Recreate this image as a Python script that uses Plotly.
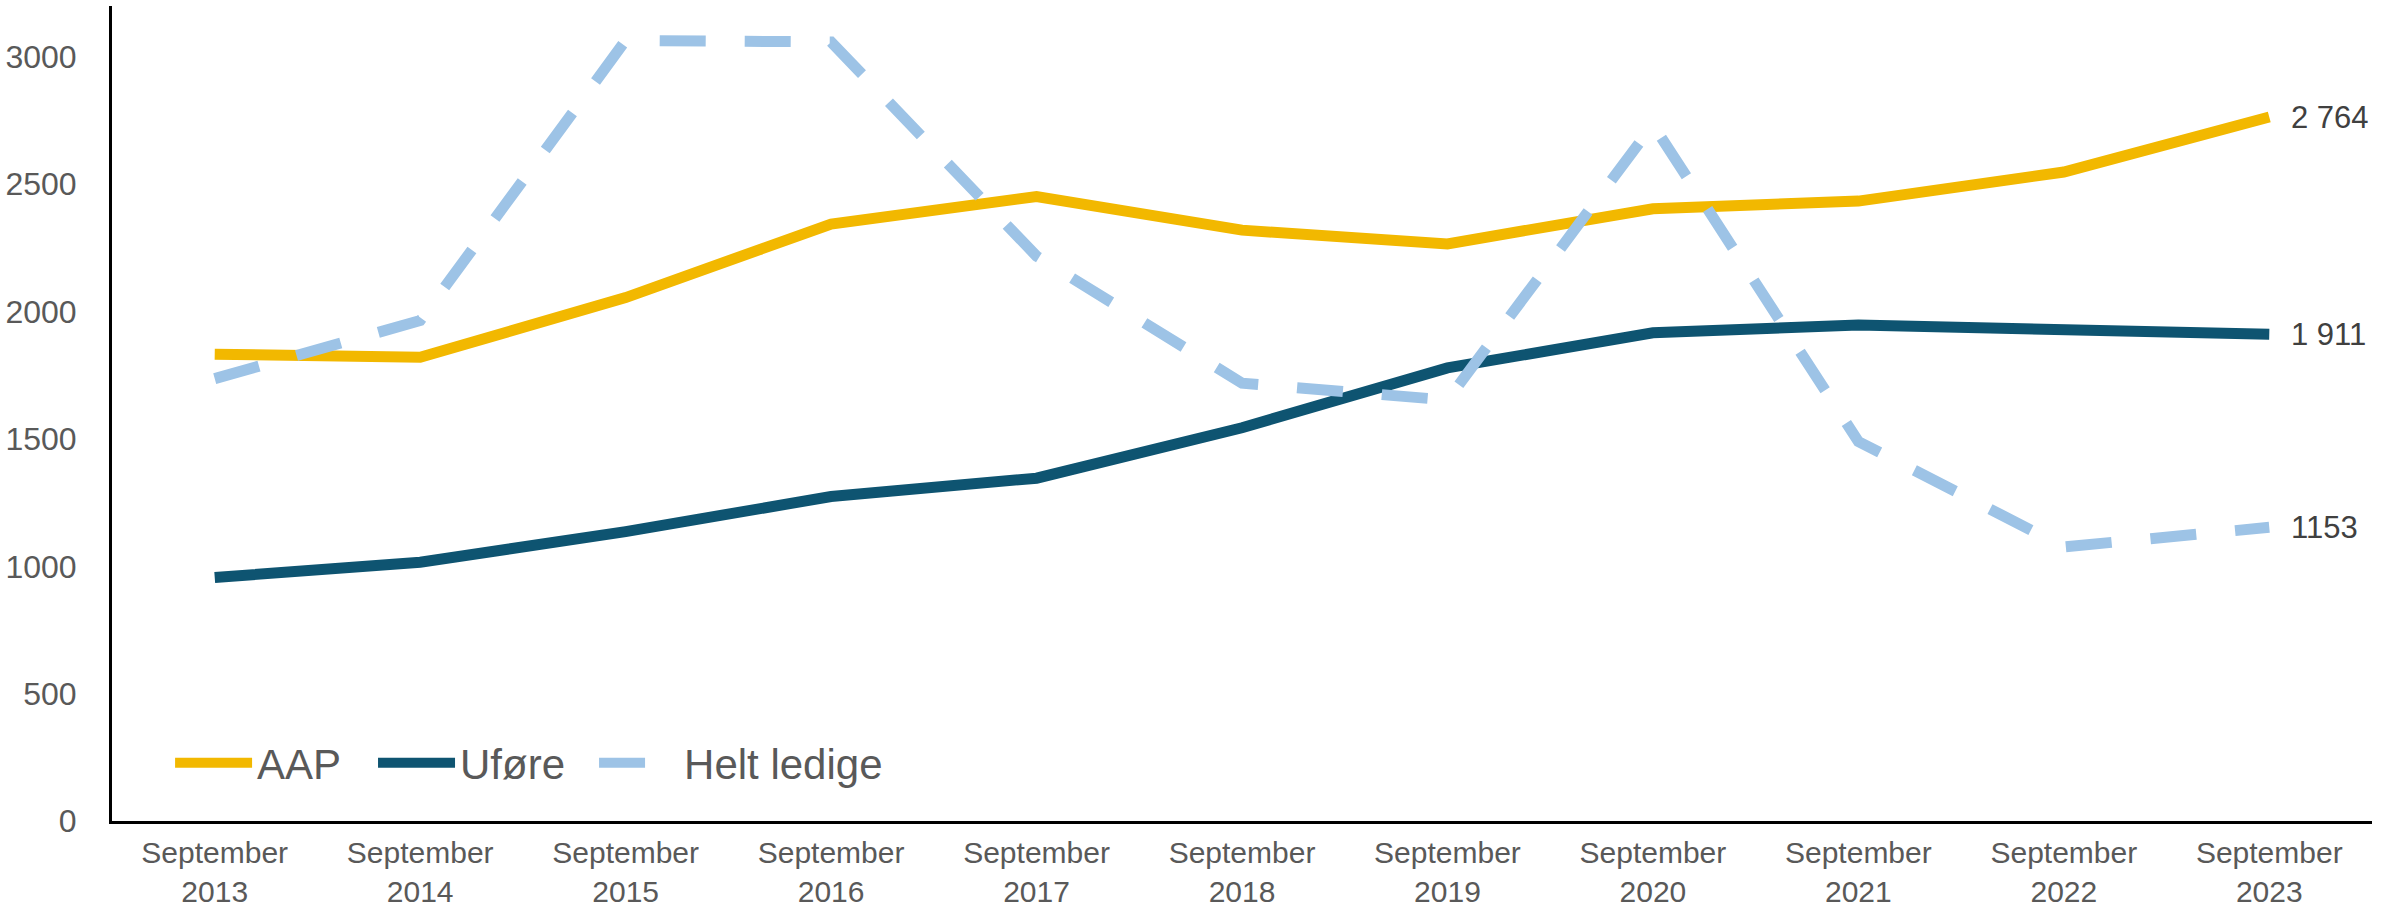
import plotly.graph_objects as go

categories = ["September<br>2013", "September<br>2014", "September<br>2015", "September<br>2016",
              "September<br>2017", "September<br>2018", "September<br>2019", "September<br>2020",
              "September<br>2021", "September<br>2022", "September<br>2023"]

aap = [1833, 1821, 2055, 2344, 2452, 2320, 2266, 2404, 2434, 2548, 2764]
ufore = [956, 1016, 1136, 1274, 1346, 1544, 1779, 1917, 1947, 1929, 1911]
helt_ledige = [1737, 1965, 3065, 3059, 2218, 1719, 1653, 2734, 1490, 1076, 1153]

end_labels = ["2 764", "1 911", "1153"]

C_AAP = "#F2B800"
C_UFO = "#0E5471"
C_HL = "#9DC3E6"

fig = go.Figure()
fig.add_trace(go.Scatter(x=categories, y=aap, name="AAP", mode="lines", legend="legend",
                         line=dict(color=C_AAP, width=11)))
fig.add_trace(go.Scatter(x=categories, y=ufore, name="Uføre", mode="lines", legend="legend2",
                         line=dict(color=C_UFO, width=11)))
fig.add_trace(go.Scatter(x=categories, y=helt_ledige, name="Helt ledige", mode="lines",
                         legend="legend3",
                         line=dict(color=C_HL, width=11, dash="46px,39px")))

for series, lab in zip([aap, ufore, helt_ledige], end_labels):
    fig.add_annotation(x=categories[-1], y=series[-1], text=lab, showarrow=False,
                       xanchor="left", yanchor="middle", xshift=20,
                       font=dict(family="Liberation Sans, Arial", size=31, color="#404040"))

leg_common = dict(orientation="h", xanchor="left", y=0.0712, yanchor="middle",
                  font=dict(size=42, color="#595959"), bgcolor="rgba(0,0,0,0)")

fig.update_layout(
    width=2402, height=911,
    margin=dict(l=112, r=30, t=6, b=90),
    paper_bgcolor="white", plot_bgcolor="white",
    font=dict(family="Liberation Sans, Arial", color="#595959"),
    showlegend=True,
    legend=dict(x=0.0257, itemwidth=77, **leg_common),
    legend2=dict(x=0.1155, itemwidth=77, **leg_common),
    legend3=dict(x=0.2133, itemwidth=80, **leg_common),
)
fig.update_xaxes(type="category", range=[-0.5, 10.5], showline=True, linecolor="black",
                 linewidth=3, showgrid=False, ticks="", tickfont=dict(size=30, color="#595959"),
                 ticklabelstandoff=3, zeroline=False, automargin=False)
fig.update_yaxes(range=[0, 3200], tickvals=[0, 500, 1000, 1500, 2000, 2500, 3000],
                 showline=True, linecolor="black", linewidth=3, showgrid=False, ticks="",
                 tickfont=dict(size=32, color="#595959"), ticklabelstandoff=26, zeroline=False,
                 automargin=False)

fig.write_html("out.html", config={"displayModeBar": False},
               post_script="document.body.style.margin='0';")
